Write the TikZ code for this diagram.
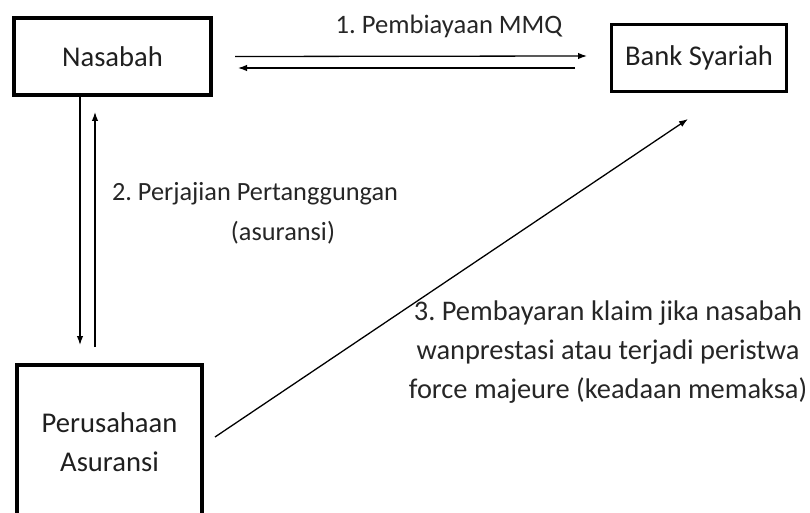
\documentclass[tikz,border=0pt]{standalone}
\usepackage{fontspec}
\setmainfont{Carlito}
\usetikzlibrary{arrows.meta, positioning, calc}
\frenchspacing

\tikzset{
  box/.style={draw, line width=4pt, inner sep=0pt, text=black!88},
  flow/.style={line width=1.3pt, -{Latex[length=9pt,width=6.5pt]}},
  lbl/.style={text=black!85, inner sep=0pt}
}

\begin{document}
\begin{tikzpicture}[x=1pt, y=-1pt, font=\fontsize{28.6}{39}\selectfont]
  \useasboundingbox (0,0) rectangle (810,513);

  % Define boxes
  \node[box, minimum width=197pt, minimum height=77pt] (nasabah) at (112.5,56.5) {Nasabah};
  \node[box, line width=3pt, minimum width=175pt, minimum height=67pt] (bank) at (699,58) {Bank Syariah};
  \node[box, minimum width=185pt, minimum height=154pt, align=center] (asuransi) at (109.5,442) {Perusahaan\\Asuransi};

  % Arrows between Nasabah and Bank
  \draw[flow] ($(nasabah.east)+(22,0)$) -- ($(bank.west)+(-23,-2)$);
  \draw[flow] ($(bank.west)+(-35,10)$) -- ($(nasabah.east)+(25,11.5)$);

  % Arrows between Nasabah and Asuransi
  \draw[flow] ($(nasabah.south)+(-32.5,0)$) -- ($(asuransi.north)+(-29.5,-18)$);
  \draw[flow] ($(asuransi.north)+(-14.5,-16)$) -- ($(nasabah.south)+(-17.5,15)$);

  % Claim payment
  \draw[flow] ($(asuransi.east)+(11,-5)$) -- ($(bank.south)+(-11,26)$);

  % Labels
  \node[lbl, font=\fontsize{26.6}{36}\selectfont] (l1) at (449,26) {1. Pembiayaan MMQ};
  \node[lbl, font=\fontsize{26.3}{36}\selectfont] (l2a) at (255,194) {2. Perjajian Pertanggungan};
  \node[lbl, font=\fontsize{26.3}{36}\selectfont] (l2b) at (283,233) {(asuransi)};
  \node[lbl, align=center, font=\fontsize{28.4}{39}\selectfont] (l3) at (608,352) {3. Pembayaran klaim jika nasabah\\wanprestasi atau terjadi peristwa\\force majeure (keadaan memaksa)};
\end{tikzpicture}
\end{document}
